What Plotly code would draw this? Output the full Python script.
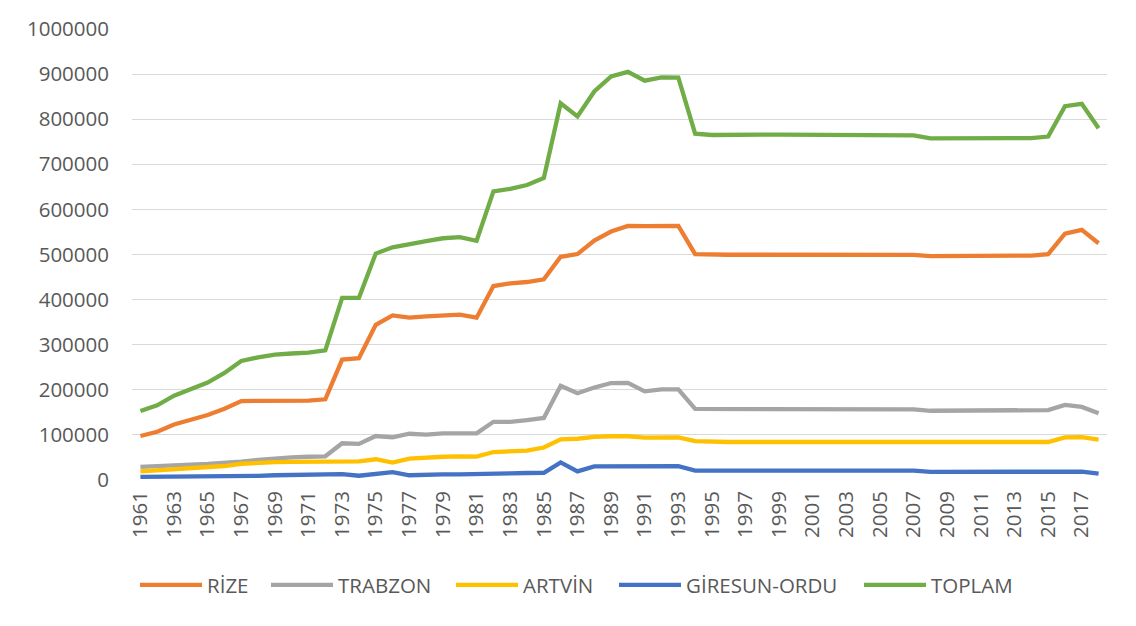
import plotly.graph_objects as go

years = list(range(1961, 2019))

rize = [97600, 107000, 123000, 134000, 144000, 158000, 175000, 175500, 176000, 176000,
        176000, 179000, 267000, 270000, 344000, 365000, 360000, 363000, 364500, 366500,
        360000, 430000, 436000, 439000, 445000, 495000, 501000, 531000, 551000, 563500,
        563000, 563500, 563500, 500700, 499500, 499500, 499500, 499500, 499500, 499500,
        499000, 499000, 499000, 499000, 499000, 499000, 499000, 496500, 496500, 496500,
        496500, 496500, 497000, 497500, 500700, 546000, 554500, 525000]

trabzon = [29000, 30000, 32000, 34000, 35500, 37500, 40500, 44500, 48000, 50000,
           51500, 52500, 81500, 80000, 97500, 94500, 102500, 100500, 103500, 103500,
           103500, 129000, 129000, 133000, 137500, 209000, 192500, 205000, 215000, 215500,
           196500, 201000, 201000, 157500, 157500, 157000, 157000, 157000, 157000, 157000,
           157000, 157000, 157000, 157000, 157000, 157000, 156500, 153500, 153500, 153500,
           154500, 154500, 154500, 154500, 155000, 166500, 162000, 148000]

artvin = [19000, 21500, 24000, 26500, 28000, 31000, 36000, 38500, 39500, 40000,
          40500, 41000, 41000, 41500, 46000, 38500, 47500, 50000, 51500, 52500,
          52000, 62000, 62500, 65000, 72000, 90000, 91500, 95500, 97000, 97000,
          94000, 94500, 94500, 86000, 84500, 84300, 84300, 84300, 84300, 84300,
          84300, 84300, 84300, 84300, 84300, 84300, 84300, 84300, 84300, 84300,
          84300, 84300, 84300, 84300, 84300, 94500, 95000, 89500]

giresun_ordu = [7000, 7000, 7000, 7000, 7000, 7500, 8000, 9000, 10500, 11500,
                12000, 12500, 13000, 9500, 14000, 17500, 10500, 12000, 12500, 12500,
                12500, 14500, 14800, 15500, 16000, 39000, 19000, 30000, 30500, 31000,
                31000, 31000, 30500, 21000, 20700, 21000, 21000, 21000, 21000, 21000,
                21000, 21000, 21000, 21000, 21000, 21000, 21000, 18000, 18000, 18000,
                18000, 18000, 18000, 18000, 18000, 18500, 18500, 14000]

toplam = [153000, 165500, 187000, 202500, 216000, 237500, 264000, 272000, 278000, 280500,
          282500, 287500, 404000, 404000, 502000, 516000, 523500, 529500, 536000, 538500,
          530500, 640000, 645500, 654000, 669500, 835500, 806000, 861500, 895000, 905000,
          885500, 892500, 892000, 768000, 765000, 766000, 766000, 766000, 766000, 765500,
          765000, 765000, 765000, 765000, 764500, 764000, 764000, 757500, 758000, 758000,
          758000, 758000, 758000, 758000, 761500, 829000, 834000, 780000]

series_names = ["RİZE", "TRABZON", "ARTVİN", "GİRESUN-ORDU", "TOPLAM"]
series_values = [rize, trabzon, artvin, giresun_ordu, toplam]
colors = ["#ED7D31", "#A5A5A5", "#FFC000", "#4472C4", "#70AD47"]

tick_years = list(range(1961, 2019, 2))
y_ticks = list(range(0, 1000001, 100000))

FONT = "Open Sans, Liberation Sans, sans-serif"
TXT = "#595959"
FS = 20.5

# page has an 8px body margin: figure pixel = page pixel - 8; keep figure inside viewport
OFF = 8
W, H = 1136 - 2 * OFF, 626 - 2 * OFF
L = 132 - OFF
T = 29 - OFF
R = W - (1107 - OFF)
B = H - (480 - OFF)
pw, ph = W - L - R, H - T - B
base = H - B  # figure y of plot bottom

# page x where each legend entry's line sample begins (layout only)
legend_starts = [141, 272, 457, 620, 865]

fig = go.Figure()
legend_layouts = {}
for i, (name, vals, col) in enumerate(zip(series_names, series_values, colors)):
    key = "legend" if i == 0 else f"legend{i + 1}"
    fig.add_trace(go.Scatter(
        x=years, y=vals, name=name, mode="lines",
        line=dict(color=col, width=4.3), legend=key,
    ))
    legend_layouts[key] = dict(
        orientation="h",
        x=(legend_starts[i] - 6 - OFF - L) / pw, xanchor="left",
        y=-(585 - OFF - base) / ph, yanchor="middle",
        font=dict(family=FONT, size=FS, color=TXT),
        itemwidth=62, bgcolor="rgba(0,0,0,0)",
    )

fig.update_layout(
    width=W, height=H,
    margin=dict(l=L, r=R, t=T, b=B, autoexpand=False),
    paper_bgcolor="white", plot_bgcolor="white",
    font=dict(family=FONT, size=FS, color=TXT),
    showlegend=True,
    xaxis=dict(
        range=[1960.5, 2018.5],
        tickmode="array", tickvals=tick_years, ticktext=[str(y) for y in tick_years],
        tickangle=-90, showgrid=False, zeroline=False,
        showline=False, ticks="", ticklabelstandoff=6,
        tickfont=dict(family=FONT, size=FS, color=TXT), automargin=False,
    ),
    yaxis=dict(
        range=[0, 1000000],
        tickmode="array", tickvals=y_ticks, ticktext=[str(v) for v in y_ticks],
        showgrid=True, gridcolor="#D9D9D9", gridwidth=1.3,
        zeroline=False, showline=False, ticks="",
        ticklabelstandoff=22,
        tickfont=dict(family=FONT, size=FS, color=TXT), automargin=False,
    ),
    **legend_layouts,
)

fig.write_html("out.html")
